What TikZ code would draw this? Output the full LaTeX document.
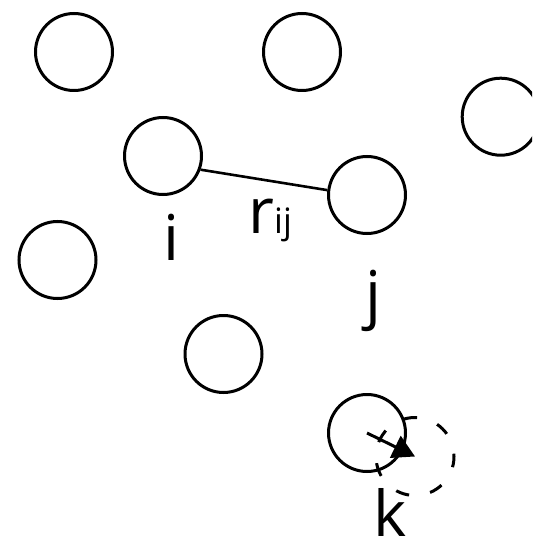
\documentclass[tikz,border=0pt]{standalone}
\usepackage{fontspec}
\setmainfont{Open Sans}
\usetikzlibrary{arrows.meta}
\begin{document}
\begin{tikzpicture}[x=0.5pt,y=-0.5pt,
        part/.style={circle,draw,line width=1.5pt,minimum size=38.5pt,inner sep=0pt},
        lbl/.style={inner sep=0pt,font=\fontsize{31.6}{38}\selectfont}]
        \useasboundingbox (0,0) rectangle (532,545);
        \clip (0,0) rectangle (532,545);
        % particles
        \node[part] (p1) at (74,52) {};
        \node[part] (p2) at (302,52) {};
        \node[part] (p3) at (500.7,116.7) {};
        \node[part] (pi) at (163,156) {};
        \node[part] (pj) at (367,195) {};
        \node[part] (p4) at (57.5,260) {};
        \node[part] (p5) at (223.5,354) {};
        \node[part] (pk) at (367,433) {};
        % trial position of k
        \node[part,minimum size=39pt,dash pattern=on 6.8pt off 10.7pt,dash phase=5.4pt] (pknew) at (415,456.5) {};

        \draw[line width=1.3pt] (pi.-20) -- (pj.173);
        \draw[line width=1.5pt,-{Triangle[length=11pt,width=12pt]}] (pk.center) -- (pknew.center);

        \node[lbl,anchor=base] (li) at (171,260) {i};
        \node[lbl,anchor=base west] (lrij) at (248,233) {r\fontsize{17.5}{20}\selectfont ij};
        \node[lbl,anchor=base] (lj) at (373,316) {j};
        \node[lbl,anchor=base] (lk) at (390,536) {k};
\end{tikzpicture}
\end{document}
